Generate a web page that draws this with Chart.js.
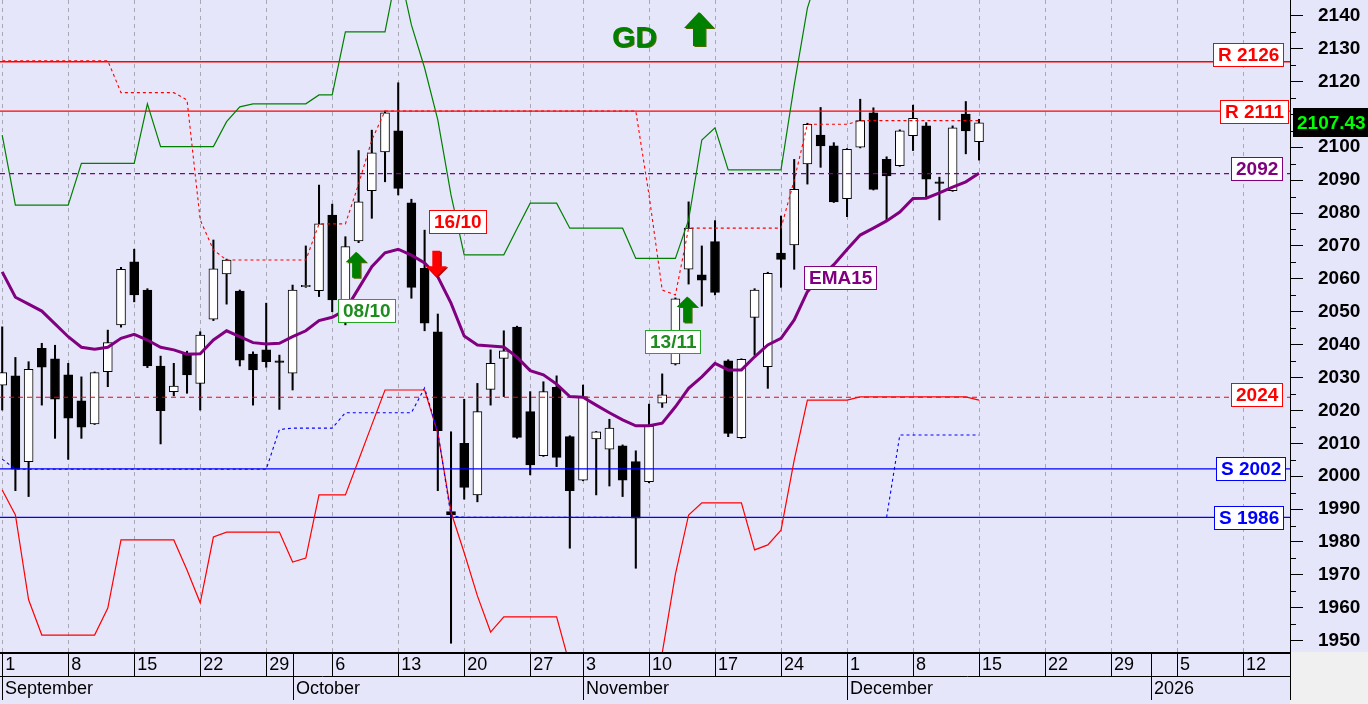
<!DOCTYPE html>
<html>
<head>
<meta charset="utf-8">
<title>Chart</title>
<script src="https://cdn.jsdelivr.net/npm/chart.js@4.4.1/dist/chart.umd.min.js"></script>
<style>
html,body{margin:0;padding:0;background:#E6E6FA;overflow:hidden;}
canvas{display:block;}
</style>
</head>
<body>
<canvas id="chart" width="1368" height="704"></canvas>
<script>
// ---------------- data ----------------
const weekTickSlots  = [0,5,10,15,20,25,30,35,40,44,49,54,59,64,69,74,79,84,89,94];
const weekTickLabels = ['1','8','15','22','29','6','13','20','27','3','10','17','24','1','8','15','22','29','5','12'];
const monthStartSlots = [0,22,44,64,87];
const monthLabels = ['September','October','November','December','2026'];

const candleOpen = [2027.7,2030.5,2004.4,2038.9,2035.7,2030.8,2022.9,2015.9,2031.8,2046.0,
 2065.2,2056.6,2033.5,2025.7,2037.4,2028.2,2047.7,2061.5,2056.3,2037.1,
 2038.4,2035.0,2031.3,2057.6,2056.4,2079.4,2049.5,2071.5,2086.8,2098.6,
 2105.0,2083.1,2063.2,2043.9,1989.2,2010.0,1994.3,2026.4,2035.8,2045.3,
 2019.6,2006.2,2027.0,2012.0,1998.8,2011.3,2008.2,2009.2,2004.4,1998.3,
 2022.2,2034.1,2062.9,2061.2,2071.3,2035.1,2011.7,2048.3,2033.3,2067.8,
 2070.3,2094.9,2103.7,2100.4,2084.4,2100.0,2110.5,2096.3,2094.4,2103.5,
 2106.5,2089.2,2086.8,2110.1,2101.7];
const candleHigh = [2045.4,2036.1,2034.8,2040.4,2039.8,2034.3,2030.2,2031.7,2044.4,2063.5,
 2069.0,2057.0,2036.5,2034.3,2038.0,2043.9,2071.8,2066.0,2056.6,2037.8,
 2052.6,2036.8,2058.1,2070.0,2088.5,2082.7,2072.8,2099.0,2105.2,2111.0,
 2119.6,2084.2,2074.8,2049.3,2013.5,2023.4,2028.2,2038.4,2044.2,2045.6,
 2025.7,2028.7,2030.5,2012.3,2027.7,2013.6,2017.3,2009.5,2007.7,2021.9,
 2031.1,2054.2,2083.4,2070.0,2077.7,2035.4,2035.7,2057.0,2062.0,2079.1,
 2096.3,2107.3,2112.1,2101.4,2099.6,2114.6,2112.0,2097.1,2105.3,2112.8,
 2107.5,2090.9,2106.5,2113.9,2108.5];
const candleLow = [2020.1,1995.6,1993.8,2021.6,2011.5,2005.1,2011.5,2015.7,2027.2,2045.3,
 2053.0,2033.0,2009.8,2024.4,2025.2,2020.1,2047.3,2052.3,2033.5,2021.6,
 2033.1,2020.3,2026.2,2057.4,2054.6,2050.0,2046.0,2071.0,2078.4,2089.5,
 2085.5,2054.1,2044.2,1995.6,1949.2,1993.0,1992.2,2021.6,2024.2,2011.5,
 2000.4,2006.0,2002.9,1978.1,1998.6,1994.3,1997.0,1993.8,1972.0,1998.0,
 2020.9,2033.8,2058.4,2051.7,2055.1,2012.0,2011.5,2036.8,2026.7,2057.4,
 2062.9,2088.8,2093.9,2083.2,2078.9,2099.8,2087.0,2077.7,2094.2,2099.0,
 2084.5,2077.9,2086.6,2098.0,2096.1];
const candleClose = [2031.5,2002.1,2032.5,2033.1,2023.4,2017.6,2014.9,2031.5,2040.6,2062.9,
 2055.1,2033.5,2019.9,2027.4,2030.8,2042.9,2063.0,2065.7,2035.3,2032.3,
 2034.8,2034.6,2056.6,2058.0,2076.7,2053.6,2069.8,2083.4,2098.3,2110.5,
 2087.5,2057.4,2046.5,2013.8,1988.2,1996.6,2019.6,2034.3,2038.1,2011.8,
 2003.4,2025.7,2005.7,1995.6,2024.2,2013.5,2014.6,1998.8,1987.2,2015.2,
 2024.7,2053.9,2075.4,2059.6,2055.9,2013.0,2035.5,2056.6,2061.7,2065.9,
 2087.2,2107.0,2100.4,2083.4,2099.4,2108.1,2087.2,2091.3,2105.0,2108.8,
 2090.3,2089.0,2105.9,2105.0,2107.43];

const ema15 = [2062.1,2054.4,2052.3,2050.2,2046.3,2042.4,2039.2,2038.6,2039.2,2041.9,
 2043.1,2041.4,2039.2,2038.4,2037.1,2037.2,2041.4,2044.2,2042.4,2040.6,
 2040.2,2040.4,2042.4,2044.2,2047.3,2048.3,2050.5,2057.1,2063.7,2067.9,
 2069.0,2067.2,2064.8,2060.6,2052.6,2042.6,2039.9,2039.6,2039.3,2036.2,
 2032.1,2030.8,2028.0,2024.2,2024.0,2021.6,2019.3,2017.1,2015.3,2015.3,
 2016.1,2021.1,2026.7,2030.2,2034.3,2032.3,2032.3,2036.3,2039.9,2041.9,
 2047.5,2056.1,2060.6,2064.3,2068.9,2073.3,2075.4,2077.6,2080.3,2084.4,
 2084.5,2086.1,2087.9,2089.5,2092.1];

const upperBand = [2103.7,2082.4,2082.4,2082.4,2082.4,2082.4,2095.1,2095.1,2095.1,2095.1,
 2095.1,2113.2,2100.2,2100.2,2100.2,2100.2,2100.2,2107.8,2112.3,2113.2,
 2113.2,2113.2,2113.2,2113.2,2115.9,2115.9,2135.1,2135.1,2135.1,2135.1,
 2155.4,2137.2,2124.1,2108.3,2085.5,2067.3,2067.3,2067.3,2067.3,2075.2,
 2083.0,2083.0,2083.0,2075.4,2075.4,2075.4,2075.4,2075.4,2066.2,2066.2,
 2066.2,2066.2,2077.9,2102.2,2105.9,2093.1,2093.1,2093.1,2093.1,2093.1,
 2118.9,2142.3,2155.0,2160.0];

const lowerBand = [1995.8,1988.2,1962.4,1951.7,1951.7,1951.7,1951.7,1951.7,1959.9,1980.6,
 1980.6,1980.6,1980.6,1980.6,1971.5,1961.5,1981.5,1983.0,1983.0,1983.0,
 1983.0,1983.0,1973.9,1975.1,1994.3,1994.3,1994.3,2004.9,2015.6,2026.2,
 2026.2,2026.2,2026.2,2013.1,1989.1,1976.7,1963.6,1952.6,1957.2,1957.2,
 1957.2,1957.2,1957.2,1942.6,1935.0,1932.0,1932.0,1932.0,1932.0,1935.0,
 1946.2,1970.2,1988.2,1991.9,1991.9,1991.9,1991.9,1977.6,1979.1,1983.6,
 2004.9,2023.1,2023.1,2023.1,2023.1,2024.1,2024.1,2024.1,2024.1,2024.1,
 2024.1,2024.1,2024.1,2024.1,2023.1];

const resistanceStop = [2126.3,2126.3,2126.3,2126.3,2126.3,2126.3,2126.3,2126.3,2126.3,2116.6,
 2116.6,2116.6,2116.6,2116.6,2114.4,2077.9,2068.8,2065.7,2065.7,2065.7,
 2065.7,2065.7,2065.7,2065.7,2076.7,2076.7,2076.7,2088.8,2102.2,2111.0,
 2111.0,2111.0,2111.0,2111.0,2111.0,2111.0,2111.0,2111.0,2111.0,2111.0,
 2111.0,2111.0,2111.0,2111.0,2111.0,2111.0,2111.0,2111.0,2111.0,2085.5,
 2056.6,2055.1,2075.4,2075.4,2075.4,2075.4,2075.4,2075.4,2075.4,2075.4,
 2090.0,2107.0,2107.0,2107.0,2107.0,2108.1,2108.1,2108.1,2108.1,2108.1,
 2108.1,2108.1,2108.1,2108.1,2108.1];

const supportStop = [2005.2,2002.1,2002.1,2002.1,2002.1,2002.1,2002.1,2002.1,2002.1,2002.1,
 2002.1,2002.1,2002.1,2002.1,2002.1,2002.1,2002.1,2002.1,2002.1,2002.1,
 2002.1,2014.2,2014.6,2014.6,2014.6,2014.6,2019.3,2019.3,2019.3,2019.3,
 2019.3,2019.3,2026.8,2013.4,1987.9,1987.5,1987.5,1987.5,1987.5,1987.5,
 1987.5,1987.5,1987.5,1987.5,1987.5,1987.5,1987.5,1987.5,null,null,
 null,null,null,null,null,null,null,null,null,null,
 null,null,null,null,null,null,null,1987.5,2012.5,2012.5,
 2012.5,2012.5,2012.5,2012.5,2012.5];

const levelValues = [2126, 2111, 2092, 2024, 2002.2, 1987.5];
const levelLabels = ['R 2126', 'R 2111', '2092', '2024', 'S 2002', 'S 1986'];
const lastPrice = 2107.43;
const lastPriceLabel = '2107.43';

const signalSlots = [27, 33, 52];
const signalLabels = ['08/10', '16/10', '13/11'];
const signalDirections = ['up', 'down', 'up'];
const headlineText = 'GD';
const emaLabel = 'EMA15';

// ---------------- styling / layout (not data) ----------------
const FONT = "'Liberation Sans', Arial, Helvetica, sans-serif";
const X_MIN = -0.167, X_MAX = 97.56, Y_MIN = 1946.54, Y_MAX = 2144.77;
const BG = '#E6E6FA';
const levelStyle = [
  {color:'#FF0000', dash:[],    width:1.3, right:1283, shift:-7.5},
  {color:'#FF0000', dash:[],    width:1.3, right:1288, shift:0},
  {color:'#800080', dash:[5,4], width:1.2, right:1282, shift:-5.5},
  {color:'#FF0000', dash:[5,4], width:1.2, right:1282, shift:-2.5},
  {color:'#0000FF', dash:[],    width:1.3, right:1285, shift:0},
  {color:'#0000FF', dash:[],    width:1.3, right:1283, shift:0}
];
const signalStyle = [
  {color:'#008000', text:'#1E8C1E', border:'#22A822', arrowDx:-2.5, arrowTop:2068.2, boxDx:8,    boxValue:2050.4},
  {color:'#FF0000', text:'#FF0000', border:'#FF0000', arrowDx:-1.5, arrowTop:2068.5, boxDx:19.7, boxValue:2077.3},
  {color:'#008000', text:'#1E8C1E', border:'#22A822', arrowDx:-1.5, arrowTop:2054.6, boxDx:-16.6,boxValue:2040.9}
];
const emaLabelPos = {slot:63.5, value:2060.4};

const xs = candleOpen.map((_, i) => i);
const isUp = i => candleClose[i] >= candleOpen[i];

function lineSet(values, color, width, dash, order) {
  return {
    type:'line',
    data: values.map((v, i) => ({x:i, y:v})),
    borderColor: color, borderWidth: width, borderDash: dash,
    pointRadius: 0, tension: 0, fill: false, spanGaps: false, clip: 0, order: order
  };
}

const datasets = [
  { type:'bar', data: xs.map(i => ({x:i, y:[candleLow[i], candleHigh[i]]})),
    backgroundColor:'#000', borderWidth:0, barThickness:1.4, grouped:false, order:20, clip:0 },
  { type:'bar', data: xs.map(i => ({x:i, y:[candleOpen[i], candleClose[i]]})),
    backgroundColor: c => isUp(c.dataIndex) ? '#FFFFFF' : '#000000',
    borderColor:'#000', borderWidth:1, borderSkipped:false, barThickness:9,
    minBarLength:1.5, grouped:false, order:19, clip:0 }
];
levelValues.forEach((v, i) => {
  const s = levelStyle[i];
  datasets.push({ type:'line', data:[{x:X_MIN, y:v}, {x:X_MAX, y:v}],
    borderColor:s.color, borderWidth:s.width, borderDash:s.dash,
    pointRadius:0, tension:0, fill:false, clip:0, order:10 });
});
datasets.push(lineSet(lowerBand, '#FF0000', 1.2, [], 5));
datasets.push(lineSet(upperBand, '#008000', 1.2, [], 5));
datasets.push(lineSet(resistanceStop, '#FF0000', 1.1, [3,3], 4));
datasets.push(lineSet(supportStop, '#0000FF', 1.1, [3,3], 4));
datasets.push(lineSet(ema15, '#800080', 3, [], 1));

function boxLabel(ctx, text, left, cy, border, color) {
  ctx.font = 'bold 19px ' + FONT;
  const tw = ctx.measureText(text).width;
  const w = Math.round(tw + 9), h = 23;
  const l = Math.round(left) + 0.5, t = Math.round(cy - h / 2) + 0.5;
  ctx.fillStyle = '#FFFFFF'; ctx.fillRect(l, t, w, h);
  ctx.setLineDash([]); ctx.lineWidth = 1; ctx.strokeStyle = border; ctx.strokeRect(l, t, w, h);
  ctx.fillStyle = color; ctx.textAlign = 'left'; ctx.textBaseline = 'middle';
  ctx.fillText(text, l + 4.5, t + h / 2 + 1);
  return w;
}
function measure(ctx, text) { ctx.font = 'bold 19px ' + FONT; return Math.round(ctx.measureText(text).width + 9); }

function arrow(ctx, cx, top, d, dir, fill, shade) {
  const {hw, hh, sw, h} = d;
  const pts = dir === 'up'
    ? [[cx, top],[cx + hw/2, top + hh],[cx + sw/2, top + hh],[cx + sw/2, top + h],[cx - sw/2, top + h],[cx - sw/2, top + hh],[cx - hw/2, top + hh]]
    : [[cx, top + h],[cx + hw/2, top + h - hh],[cx + sw/2, top + h - hh],[cx + sw/2, top],[cx - sw/2, top],[cx - sw/2, top + h - hh],[cx - hw/2, top + h - hh]];
  const poly = (dx, dy) => { ctx.beginPath(); pts.forEach((p, k) => k ? ctx.lineTo(p[0]+dx, p[1]+dy) : ctx.moveTo(p[0]+dx, p[1]+dy)); ctx.closePath(); };
  ctx.fillStyle = shade; poly(1.5, 1); ctx.fill();
  ctx.fillStyle = fill; poly(0, 0); ctx.fill();
}

const decor = {
  id:'decor',
  beforeDraw(chart) {
    const {ctx, width, height, chartArea:a} = chart;
    ctx.save();
    ctx.fillStyle = BG; ctx.fillRect(0, 0, width, height);
    ctx.fillStyle = '#F0F0F0'; ctx.fillRect(a.right, a.bottom, width - a.right, height - a.bottom);
    ctx.restore();
  },
  afterDatasetsDraw(chart) {
    const {ctx, chartArea:a} = chart;
    const x = chart.scales.x, y = chart.scales.y;
    ctx.save();
    levelValues.forEach((v, i) => {
      const s = levelStyle[i];
      const w = measure(ctx, levelLabels[i]);
      boxLabel(ctx, levelLabels[i], s.right - w, y.getPixelForValue(v) + s.shift, s.color, s.color);
    });
    signalSlots.forEach((slot, i) => {
      const s = signalStyle[i];
      const px = x.getPixelForValue(slot);
      arrow(ctx, px + s.arrowDx, y.getPixelForValue(s.arrowTop), {hw:21, hh:10.5, sw:8, h:26}, signalDirections[i], s.color,
            signalDirections[i] === 'up' ? '#4F6A00' : '#B00000');
      const w = measure(ctx, signalLabels[i]);
      boxLabel(ctx, signalLabels[i], px + s.boxDx - w / 2, y.getPixelForValue(s.boxValue), s.border, s.text);
    });
    const ew = measure(ctx, emaLabel);
    boxLabel(ctx, emaLabel, x.getPixelForValue(emaLabelPos.slot) - ew / 2, y.getPixelForValue(emaLabelPos.value), '#800080', '#800080');
    ctx.font = 'bold 30px ' + FONT; ctx.textAlign = 'left'; ctx.textBaseline = 'alphabetic';
    ctx.fillStyle = '#4F6A00'; ctx.fillText(headlineText, a.left + 613, a.top + 47.5);
    ctx.fillStyle = '#008000'; ctx.fillText(headlineText, a.left + 612, a.top + 46.5);
    arrow(ctx, a.left + 699, a.top + 12, {hw:30, hh:16, sw:12, h:34}, 'up', '#008000', '#4F6A00');
    ctx.restore();
  },
  afterDraw(chart) {
    const {ctx, chartArea:a, width, height} = chart;
    const x = chart.scales.x, y = chart.scales.y;
    ctx.save();
    ctx.setLineDash([]);
    ctx.strokeStyle = '#000';
    ctx.lineWidth = 1;
    for (let v = 1950; v <= 2140; v += 5) {
      if (v % 10 === 0) continue;
      const py = Math.round(y.getPixelForValue(v)) + 0.5;
      ctx.beginPath(); ctx.moveTo(a.right, py); ctx.lineTo(a.right + 6, py); ctx.stroke();
    }
    const rowY = a.bottom + 24.5, botY = height - 4;
    ctx.lineWidth = 2;
    ctx.beginPath(); ctx.moveTo(0, a.bottom + 1); ctx.lineTo(a.right, a.bottom + 1); ctx.stroke();
    ctx.lineWidth = 1;
    ctx.beginPath(); ctx.moveTo(0, rowY); ctx.lineTo(a.right, rowY); ctx.stroke();
    ctx.beginPath(); ctx.moveTo(a.right + 0.5, a.bottom); ctx.lineTo(a.right + 0.5, botY); ctx.stroke();
    weekTickSlots.forEach(s => {
      const px = Math.round(x.getPixelForValue(s)) + 0.5;
      ctx.beginPath(); ctx.moveTo(px, a.bottom); ctx.lineTo(px, rowY); ctx.stroke();
    });
    ctx.font = '18px ' + FONT; ctx.fillStyle = '#000'; ctx.textAlign = 'left'; ctx.textBaseline = 'middle';
    monthStartSlots.forEach((s, i) => {
      const px = Math.round(x.getPixelForValue(s)) + 0.5;
      ctx.beginPath(); ctx.moveTo(px, a.bottom); ctx.lineTo(px, botY); ctx.stroke();
      ctx.fillText(monthLabels[i], px + 2.5, a.bottom + 37.5);
    });
    const py = y.getPixelForValue(lastPrice);
    ctx.fillStyle = '#000'; ctx.fillRect(a.right + 3, Math.round(py - 15), width - a.right - 3, 29);
    ctx.font = 'bold 19px ' + FONT; ctx.fillStyle = '#00FF00'; ctx.textBaseline = 'middle';
    ctx.fillText(lastPriceLabel, a.right + 7, py + 1);
    ctx.restore();
  }
};

new Chart(document.getElementById('chart'), {
  type:'bar',
  data:{ datasets },
  options:{
    responsive:false, maintainAspectRatio:false, devicePixelRatio:1, animation:false, events:[],
    layout:{ padding:0, autoPadding:false },
    plugins:{ legend:{display:false}, tooltip:{enabled:false}, title:{display:false} },
    scales:{
      x:{
        type:'linear', min:X_MIN, max:X_MAX, offset:false, position:'bottom',
        afterBuildTicks: s => { s.ticks = weekTickSlots.map(v => ({value:v})); },
        afterFit: s => { s.height = 52; s.paddingLeft = 0; s.paddingRight = 0; s.paddingTop = 0; s.paddingBottom = 0; },
        ticks:{ autoSkip:false, maxRotation:0, minRotation:0, align:'start', labelOffset:3, padding:2,
          font:{family:FONT, size:18}, color:'#000',
          callback: v => { const k = weekTickSlots.indexOf(v); return k >= 0 ? weekTickLabels[k] : ''; } },
        grid:{ display:true, drawOnChartArea:true, drawTicks:false, offset:false, color:'#A8A8B4', lineWidth:1 },
        border:{ display:false, dash:[4,4] }
      },
      y:{
        type:'linear', position:'right', min:Y_MIN, max:Y_MAX, beginAtZero:false,
        afterFit: s => { s.width = 78; s.paddingTop = 0; s.paddingBottom = 0; s.paddingLeft = 0; s.paddingRight = 0; },
        ticks:{ stepSize:10, includeBounds:false, autoSkip:false, padding:15, crossAlign:'near',
          font:{family:FONT, size:19, weight:'bold'}, color:'#000',
          // the tick label hidden under the last-price tag is left out
          callback: v => Math.abs(v - lastPrice) < 6 ? '' : String(v) },
        grid:{ drawOnChartArea:false, drawTicks:true, tickLength:13, tickColor:'#000', tickWidth:1 },
        border:{ display:true, color:'#000', width:1 }
      }
    }
  },
  plugins:[decor]
});
</script>
</body>
</html>
